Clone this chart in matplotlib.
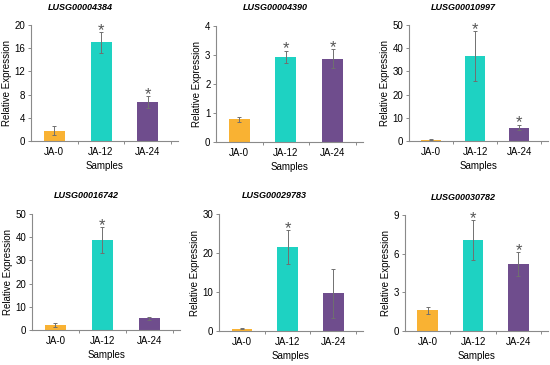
import numpy as np
import matplotlib
matplotlib.use('Agg')
import matplotlib.pyplot as plt

plt.rcParams['font.family'] = ['Liberation Sans', 'DejaVu Sans']

# Dados
AMOSTRAS = ['JA-0', 'JA-12', 'JA-24']
GENES = ['LUSG00004384', 'LUSG00004390', 'LUSG00010997',
         'LUSG00016742', 'LUSG00029783', 'LUSG00030782']
MEDIAS = [
    [1.8, 17.0, 6.7],
    [0.78, 2.93, 2.87],
    [0.5, 36.5, 5.8],
    [2.3, 38.8, 5.0],
    [0.6, 21.6, 9.7],
    [1.6, 7.05, 5.2],
]
ERROS = [
    [0.8, 1.8, 1.0],
    [0.08, 0.22, 0.33],
    [0.2, 10.8, 1.2],
    [0.9, 5.6, 0.8],
    [0.15, 4.3, 6.3],
    [0.3, 1.55, 0.9],
]
SIGNIF = [
    [False, True, True],
    [False, True, True],
    [False, True, True],
    [False, True, False],
    [False, True, False],
    [False, True, True],
]
YMAX = [20, 4, 50, 50, 30, 9]
YTICKS = [
    [0, 4, 8, 12, 16, 20],
    [0, 1, 2, 3, 4],
    [0, 10, 20, 30, 40, 50],
    [0, 10, 20, 30, 40, 50],
    [0, 10, 20, 30],
    [0, 3, 6, 9],
]

CORES = ['#F9B233', '#1ED2C2', '#6F4D8D']
CINZA = '#8a8a8a'

W, H = 550, 365
# posição de cada painel em pixels: esquerda, direita, topo, base
LAYOUT = [
    (31, 178, 25, 141),
    (216, 363, 26, 142),
    (409, 548, 25, 141),
    (32, 180, 214, 330),
    (219, 363, 214, 331),
    (405, 548, 215, 331),
]
TITULO_X = [80, 275, 463, 86, 274, 463]

fig = plt.figure(figsize=(W / 100, H / 100), dpi=100)

x = np.arange(len(AMOSTRAS))
for i, gene in enumerate(GENES):
    l, r, t, b = LAYOUT[i]
    ax = fig.add_axes([l / W, 1 - b / H, (r - l) / W, (b - t) / H])
    ax.bar(x, MEDIAS[i], width=0.45, color=CORES, zorder=2)
    ax.errorbar(x, MEDIAS[i], yerr=ERROS[i], fmt='none', ecolor='#707070',
                elinewidth=0.7, capsize=1.5, capthick=0.7, zorder=3)
    for j in range(len(AMOSTRAS)):
        if SIGNIF[i][j]:
            ax.text(x[j], MEDIAS[i][j] + ERROS[i][j] - YMAX[i] * 0.05, '*',
                    ha='center', va='bottom', fontsize=12, color='#555555')
    ax.set_xlim(-0.5, 2.65)
    ax.set_ylim(0, YMAX[i])
    ax.set_yticks(YTICKS[i])
    ax.set_xticks(x)
    ax.set_xticklabels(AMOSTRAS)
    ax.set_xticks([0.5, 1.5, 2.5], minor=True)
    ax.tick_params(axis='x', which='major', length=0, labelsize=7, pad=4)
    ax.tick_params(axis='x', which='minor', length=2, color=CINZA, width=0.7)
    ax.tick_params(axis='y', length=2, color=CINZA, width=0.7, labelsize=7, pad=2)
    for s in ['top', 'right']:
        ax.spines[s].set_visible(False)
    for s in ['left', 'bottom']:
        ax.spines[s].set_color(CINZA)
        ax.spines[s].set_linewidth(0.8)
    ax.set_xlabel('Samples', fontsize=7, labelpad=3)
    ax.set_ylabel('Relative Expression', fontsize=7, labelpad=2)
    fig.text(TITULO_X[i] / W, 1 - (t - 18) / H, gene, ha='center', va='center',
             fontsize=6.5, fontweight='bold', fontstyle='italic')

plt.savefig('out.png', dpi=100)
